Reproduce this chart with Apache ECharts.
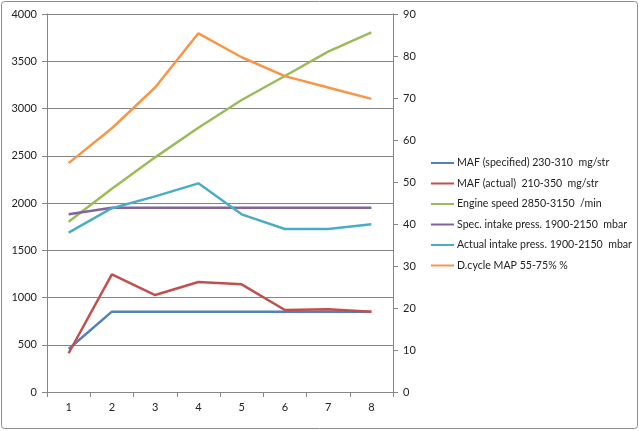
<!DOCTYPE html>
<html>
<head>
<meta charset="utf-8">
<script src="https://cdn.jsdelivr.net/npm/echarts@6/dist/echarts.min.js"></script>
<style>
html,body{margin:0;padding:0;background:#fff;}
#chart{width:640px;height:431px;}
</style>
</head>
<body>
<div id="chart"></div>
<script>
var categories = ['1','2','3','4','5','6','7','8'];
var mafSpecified = [455, 850, 850, 850, 850, 850, 850, 850];
var mafActual = [410, 1245, 1026, 1164, 1139, 868, 875, 850];
var engineSpeed = [1802, 2151, 2483, 2797, 3090, 3344, 3601, 3806];
var specIntake = [1880, 1950, 1950, 1950, 1950, 1950, 1950, 1950];
var actualIntake = [1686, 1945, 2070, 2208, 1880, 1725, 1725, 1775];
var dcycleMap = [54.5, 62.8, 72.5, 85.4, 79.7, 75.2, 72.5, 69.8];

var names = [
  'MAF (specified) 230-310  mg/str',
  'MAF (actual)  210-350  mg/str',
  'Engine speed 2850-3150  /min',
  'Spec. intake press. 1900-2150  mbar',
  'Actual intake press. 1900-2150  mbar',
  'D.cycle MAP 55-75% %'
];
var colors = ['#4F81BD', '#C0504D', '#9BBB59', '#8064A2', '#4BACC6', '#F79646'];
var seriesData = [mafSpecified, mafActual, engineSpeed, specIntake, actualIntake, dcycleMap];
var axisIdx = [0, 0, 0, 0, 0, 1];

var font = 'Lato';
var chart = echarts.init(document.getElementById('chart'));
chart.setOption({
  animation: false,
  backgroundColor: '#fff',
  textStyle: {fontFamily: font},
  grid: {left: 47, right: 247, top: 14, bottom: 39, containLabel: false},
  legend: {
    orient: 'vertical',
    left: 431,
    top: 156,
    padding: 0,
    itemWidth: 23,
    itemHeight: 2,
    itemGap: 6.5,
    icon: 'rect',
    textStyle: {fontFamily: font, fontSize: 10.6, color: '#222', padding: [0,0,0,-2], lineHeight: 14},
    data: names
  },
  xAxis: {
    type: 'category',
    data: categories,
    boundaryGap: true,
    axisLine: {lineStyle: {color: '#868686'}},
    axisTick: {show: true, interval: 0, length: 5, lineStyle: {color: '#868686'}},
    axisLabel: {color: '#222', fontSize: 11, fontFamily: font, margin: 10}
  },
  yAxis: [
    {
      type: 'value', min: 0, max: 4000, interval: 500,
      axisLine: {show: true, lineStyle: {color: '#868686'}},
      axisTick: {show: true, length: 5, lineStyle: {color: '#868686'}},
      axisLabel: {color: '#222', fontSize: 11, fontFamily: font, margin: 10, formatter: function (v) { return String(v); }},
      splitLine: {show: true, lineStyle: {color: '#868686', width: 1}}
    },
    {
      type: 'value', min: 0, max: 90, interval: 10, position: 'right',
      axisLine: {show: true, lineStyle: {color: '#868686'}},
      axisTick: {show: true, length: 5, lineStyle: {color: '#868686'}},
      axisLabel: {color: '#222', fontSize: 11, fontFamily: font, margin: 10, formatter: function (v) { return String(v); }},
      splitLine: {show: false}
    }
  ],
  series: names.map(function (n, i) {
    return {
      name: n,
      type: 'line',
      yAxisIndex: axisIdx[i],
      data: seriesData[i],
      symbol: 'none',
      color: colors[i],
      lineStyle: {width: 2.5, color: colors[i]}
    };
  }),
  graphic: [{
    type: 'rect',
    shape: {x: 1.5, y: 1.5, width: 636, height: 427, r: 3},
    style: {fill: 'none', stroke: '#8c8c8c', lineWidth: 1},
    silent: true
  }]
});
</script>
</body>
</html>
